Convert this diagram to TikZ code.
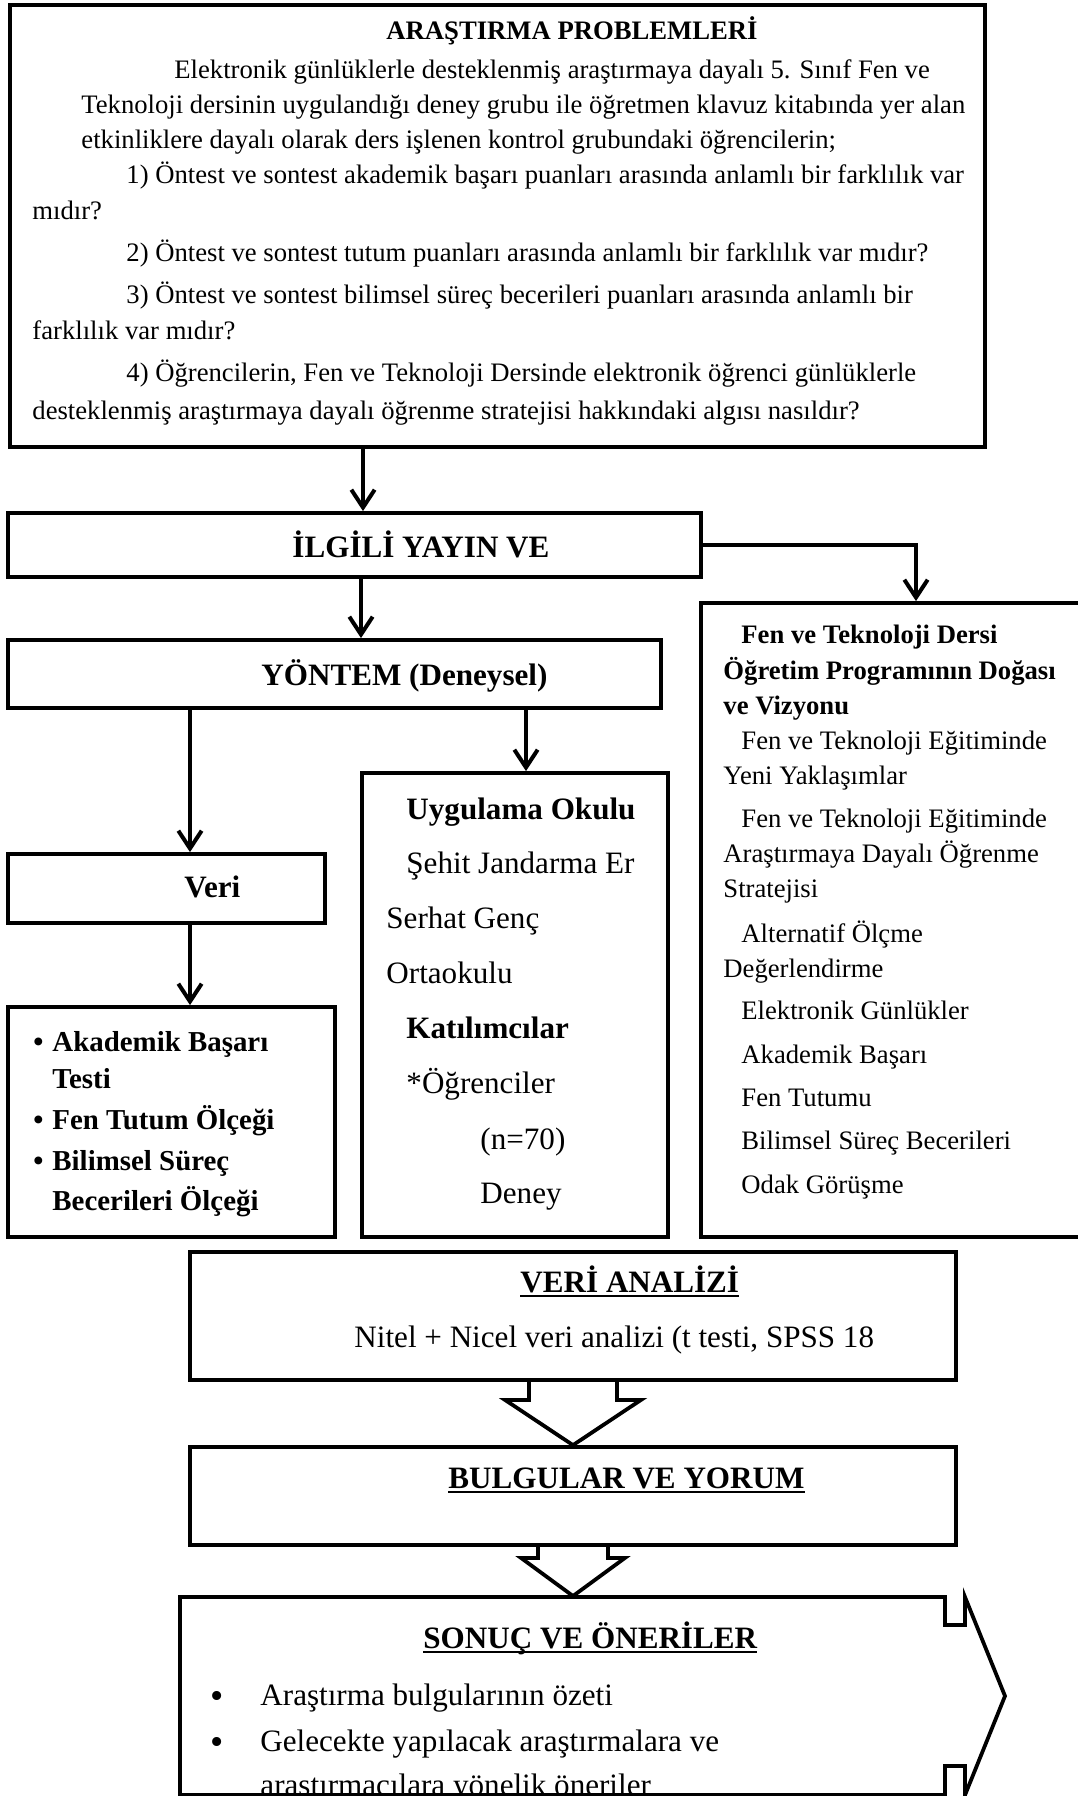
\documentclass[tikz,border=0pt]{standalone}
\usepackage{fontspec}
\setmainfont{Liberation Serif}
\usetikzlibrary{arrows.meta, positioning, fit, calc}

% Altı çizili başlık
\newcommand{\cizgili}[1]{\setbox0=\hbox{#1}\rlap{\vrule width\wd0 height -1.4pt depth 2.2pt}\box0}

\begin{document}
\begin{tikzpicture}[
        % 1 birim = 1 piksel, y aşağı doğru
        x=0.45pt, y=-0.45pt,
        box/.style={draw, line width=1.7pt, inner sep=0pt},
        arrow/.style={-{Straight Barb[length=8pt, width=10.5pt]}, line width=1.8pt},
        txt/.style={anchor=base west, inner sep=0pt, font=\fontsize{12}{14}\selectfont},
        boldtxt/.style={txt, font=\fontsize{12}{14}\selectfont\bfseries},
        midbold/.style={txt, font=\fontsize{13}{15}\selectfont\bfseries},
        bigtxt/.style={txt, font=\fontsize{14}{16}\selectfont},
        bigbold/.style={txt, font=\fontsize{14}{16}\selectfont\bfseries},
        dot/.style={txt, font=\fontsize{17}{17}\selectfont}
    ]
    \useasboundingbox (0,0) rectangle (1078,1796);

    % Kutular
    \node (problems) [box, fit={(10,5) (985,447)}] {};
    \node (literature) [box, fit={(8,513) (701,577)}] {};
    \node (method) [box, fit={(8,640) (661,708)}] {};
    \node (topics) [box, fit={(701,603) (1095,1237)}] {};
    \node (data) [box, fit={(8,854) (325,923)}] {};
    \node (scales) [box, fit={(8,1007) (335,1237)}] {};
    \node (school) [box, fit={(362,773) (668,1237)}] {};
    \node (analysis) [box, fit={(190,1252) (956,1380)}] {};
    \node (findings) [box, fit={(190,1447) (956,1545)}] {};

    % Ok sütunları
    \coordinate (c1) at (363,0);
    \coordinate (c2) at (916,0);
    \coordinate (c3) at (361,0);
    \coordinate (c4) at (190,0);
    \coordinate (c5) at (526,0);
    \coordinate (result) at (573,1596);

    % Araştırma problemleri
    \node (t-problems) [boldtxt] at (386,39) {ARAŞTIRMA PROBLEMLERİ};
    \foreach \x/\y/\metin [count=\i] in {
        174/78/{Elektronik günlüklerle desteklenmiş araştırmaya dayalı 5. Sınıf Fen ve},
        81/113/{Teknoloji dersinin uygulandığı deney grubu ile öğretmen klavuz kitabında yer alan},
        81/148/{etkinliklere dayalı olarak ders işlenen kontrol grubundaki öğrencilerin;},
        126/183/{1) Öntest ve sontest akademik başarı puanları arasında anlamlı bir farklılık var},
        32/219/{mıdır?},
        126/261/{2) Öntest ve sontest tutum puanları arasında anlamlı bir farklılık var mıdır?},
        126/303/{3) Öntest ve sontest bilimsel süreç becerileri puanları arasında anlamlı bir},
        32/339/{farklılık var mıdır?},
        126/381/{4) Öğrencilerin, Fen ve Teknoloji Dersinde elektronik öğrenci günlüklerle},
        32/419/{desteklenmiş araştırmaya dayalı öğrenme stratejisi hakkındaki algısı nasıldır?}}
        \node (p\i) [txt] at (\x,\y) {\metin};

    % Başlık kutuları
    \node (t-literature) [bigbold] at (292,557) {İLGİLİ YAYIN VE};
    \node (t-method) [bigbold] at (261,685) {YÖNTEM (Deneysel)};
    \node (t-data) [bigbold] at (184,897) {Veri};

    % Kuramsal çerçeve
    \node (k1) [boldtxt] at (741,643) {Fen ve Teknoloji Dersi};
    \node (k2) [boldtxt] at (723,679) {Öğretim Programının Doğası};
    \node (k3) [boldtxt] at (723,714) {ve Vizyonu};
    \foreach \x/\y/\metin [count=\i] in {
        741/749/{Fen ve Teknoloji Eğitiminde},
        723/784/{Yeni Yaklaşımlar},
        741/827/{Fen ve Teknoloji Eğitiminde},
        723/862/{Araştırmaya Dayalı Öğrenme},
        723/897/{Stratejisi},
        741/942/{Alternatif Ölçme},
        723/977/{Değerlendirme},
        741/1019/{Elektronik Günlükler},
        741/1063/{Akademik Başarı},
        741/1106/{Fen Tutumu},
        741/1149/{Bilimsel Süreç Becerileri},
        741/1193/{Odak Görüşme}}
        \node (r\i) [txt] at (\x,\y) {\metin};

    % Ölçekler
    \foreach \y [count=\i] in {1051,1129,1170}
        \node (m\i) [midbold] at (33,\y) {\textbullet};
    \foreach \y/\metin [count=\i] in {
        1051/{Akademik Başarı}, 1088/{Testi}, 1129/{Fen Tutum Ölçeği},
        1170/{Bilimsel Süreç}, 1210/{Becerileri Ölçeği}}
        \node (s\i) [midbold] at (52,\y) {\metin};

    % Uygulama okulu
    \node (u1) [bigbold] at (406,819) {Uygulama Okulu};
    \node (u2) [bigtxt] at (406,873) {Şehit Jandarma Er};
    \node (u3) [bigtxt] at (386,928) {Serhat Genç};
    \node (u4) [bigtxt] at (386,983) {Ortaokulu};
    \node (u5) [bigbold] at (406,1038) {Katılımcılar};
    \node (u6) [bigtxt] at (406,1093) {*Öğrenciler};
    \node (u7) [bigtxt] at (480,1149) {(n=70)};
    \node (u8) [bigtxt] at (480,1203) {Deney};

    % Analiz, bulgular, sonuç
    \node (t-analysis) [bigbold] at (520,1292) {\cizgili{VERİ ANALİZİ}};
    \node (a1) [bigtxt] at (354,1347) {Nitel + Nicel veri analizi (t testi, SPSS 18};
    \node (t-findings) [bigbold] at (448,1488) {\cizgili{BULGULAR VE YORUM}};
    \node (t-result) [bigbold] at (423,1648) {\cizgili{SONUÇ VE ÖNERİLER}};
    \node (o1) [dot] at (210,1708) {\textbullet};
    \node (o2) [dot] at (210,1754) {\textbullet};
    \node (n1) [bigtxt] at (260,1705) {Araştırma bulgularının özeti};
    \node (n2) [bigtxt] at (260,1751) {Gelecekte yapılacak araştırmalara ve};
    \node (n3) [bigtxt] at (260,1795) {araştırmacılara yönelik öneriler};

    % Oklar
    \draw [arrow] (c1 |- problems.south) -- (c1 |- literature.north);
    \draw [arrow] (literature.east) -| (c2 |- topics.north);
    \draw [arrow] (c3 |- literature.south) -- (c3 |- method.north);
    \draw [arrow] (c4 |- method.south) -- (c4 |- data.north);
    \draw [arrow] (c5 |- method.south) -- (c5 |- school.north);
    \draw [arrow] (c4 |- data.south) -- (c4 |- scales.north);

    % Blok oklar
    \draw [box] ($(analysis.south)+(-44,0)$) -- ++(0,18) -- ++(-24,0) -- (findings.north)
        -- ($(analysis.south)+(68,18)$) -- ++(-24,0) -- ++(0,-18);
    \draw [box] ($(findings.south)+(-35,0)$) -- ++(0,11) -- ++(-17,0) -- (result)
        -- ($(findings.south)+(52,11)$) -- ++(-17,0) -- ++(0,-11);

    % Sonuç kutusu (sağa ok biçimli)
    \draw [box] (180,1597) -- (945,1597) -- (945,1625) -- (965,1625) -- (965,1597)
        -- (1005,1696) -- (965,1795) -- (965,1766) -- (945,1766) -- (945,1795)
        -- (180,1795) -- cycle;

\end{tikzpicture}
\end{document}
